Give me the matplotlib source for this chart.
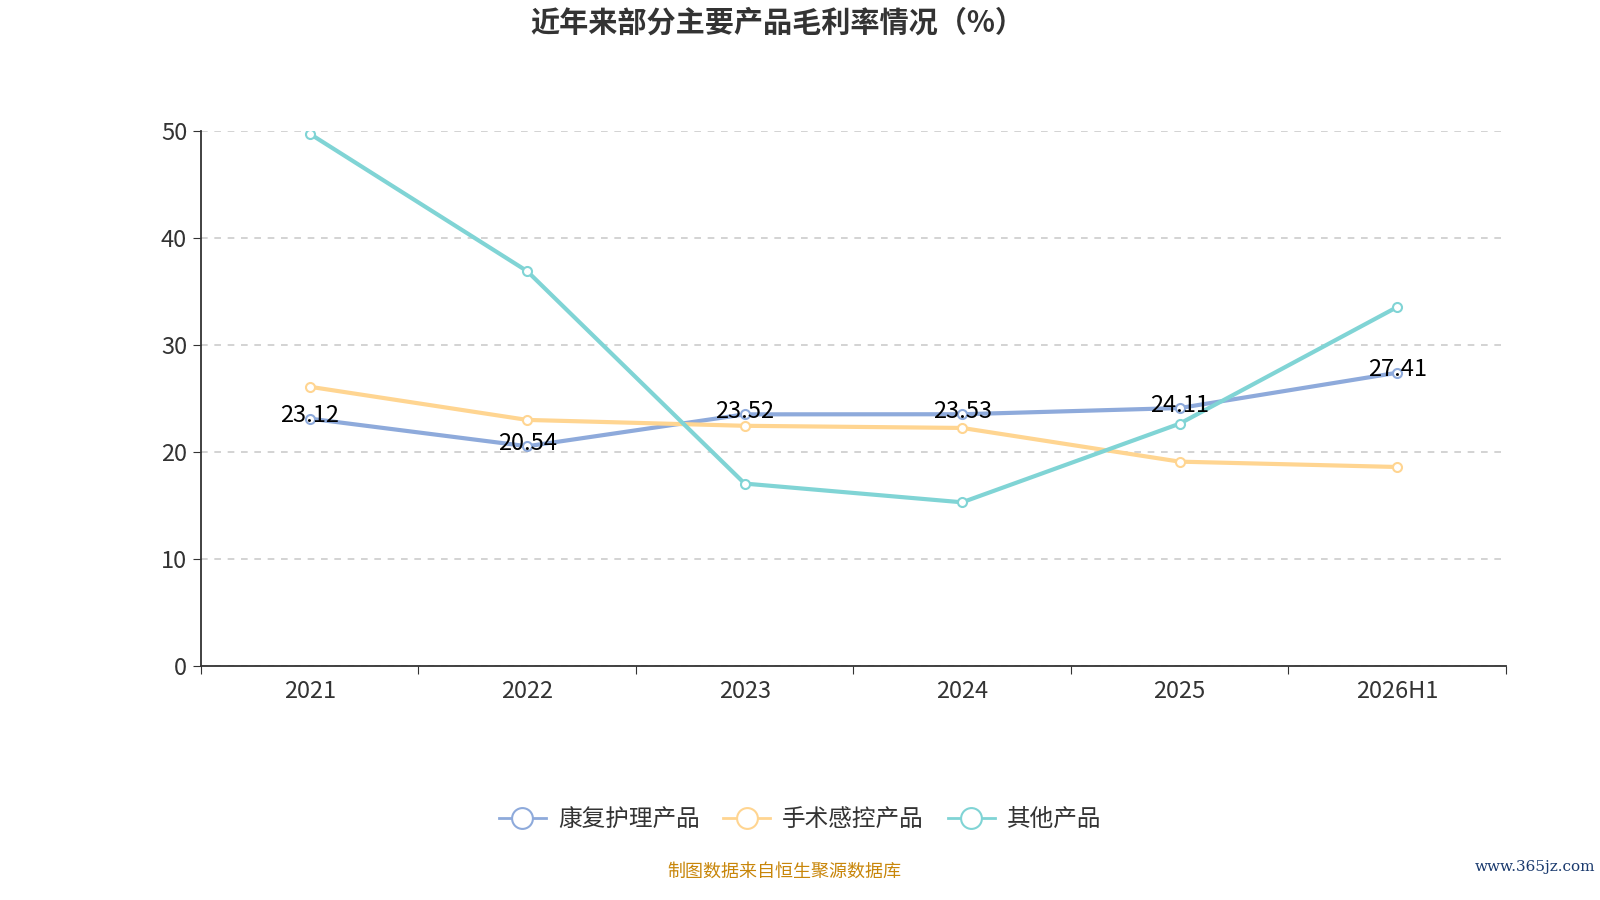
import matplotlib
matplotlib.use("Agg")
import matplotlib.pyplot as plt
from matplotlib.lines import Line2D

plt.rcParams['font.family'] = ['Noto Sans CJK SC', 'DejaVu Sans']

years = ['2021', '2022', '2023', '2024', '2025', '2026H1']
kangfu = [23.12, 20.54, 23.52, 23.53, 24.11, 27.41]
shoushu = [26.1, 23.0, 22.45, 22.25, 19.1, 18.6]
qita = [49.75, 36.9, 17.05, 15.3, 22.65, 33.55]

names = ['康复护理产品', '手术感控产品', '其他产品']
colors = ['#8eaadb', '#ffd591', '#80d4d5']

fig = plt.figure(figsize=(16, 9), dpi=100)
ax = fig.add_axes([0.1256, 0.26, 0.8156, 0.5944])

x = range(len(years))
for vals, c, n in zip([kangfu, shoushu, qita], colors, names):
    ax.plot(x, vals, color=c, lw=3, marker='o', ms=6.5, mfc='white', mec=c, mew=1.5, label=n, zorder=3)

for i, v in enumerate(kangfu):
    ax.annotate(f'{v:.2f}', (i, v), xytext=(0, 2), textcoords='offset points',
                ha='center', va='center', fontsize=17, color='black', zorder=5)

ax.set_xlim(-0.5, len(years) - 0.5)
ax.set_ylim(0, 50)
ax.set_yticks([0, 10, 20, 30, 40, 50])
ax.yaxis.grid(True, ls=(0, (4, 4)), color='#cccccc', lw=1.2)
ax.set_axisbelow(True)

ax.set_xticks([i - 0.5 for i in range(len(years) + 1)], minor=False)
ax.set_xticklabels([])
ax.set_xticks(list(x), minor=True)
ax.set_xticklabels(years, minor=True)
ax.tick_params(axis='x', which='major', length=6, color='#333333')
ax.tick_params(axis='x', which='minor', length=0, pad=10, labelsize=17, labelcolor='#333333')
ax.tick_params(axis='y', length=6, color='#333333', labelsize=17, labelcolor='#333333', pad=4)

for s in ['top', 'right']:
    ax.spines[s].set_visible(False)
for s in ['left', 'bottom']:
    ax.spines[s].set_color('#333333')
    ax.spines[s].set_linewidth(1.3)

fig.text(0.486, 0.975, '近年来部分主要产品毛利率情况（%）', ha='center', va='center',
         fontsize=21, fontweight='bold', color='#333333')

handles = [Line2D([0], [0], color=c, lw=2, marker='o', ms=15, mfc='white', mec=c, mew=1.5)
           for c in colors]
fig.legend(handles, names, loc='center', bbox_to_anchor=(0.5, 0.089), ncol=3, frameon=False,
           fontsize=17, handlelength=2.0, columnspacing=1.0, handletextpad=0.5,
           labelcolor='#333333')

fig.text(0.49, 0.032, '制图数据来自恒生聚源数据库', ha='center', va='center', fontsize=13, color='#c8860a')
fig.text(0.997, 0.037, 'www.365jz.com', ha='right', va='center', fontsize=11,
         family='DejaVu Serif', color='#1a3a6e')

fig.savefig('out.png', dpi=100)
